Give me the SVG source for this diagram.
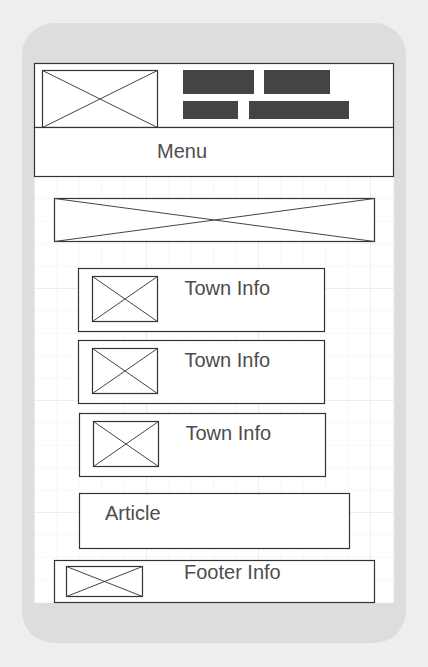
<svg xmlns="http://www.w3.org/2000/svg" width="428" height="667" viewBox="0 0 428 667">
  <defs>
    <pattern id="minor" x="34" y="64" width="22.4" height="22.4" patternUnits="userSpaceOnUse">
      <path d="M 0 0 H 22.4 M 0 0 V 22.4" fill="none" stroke="#f0f0f0" stroke-width="1"/>
    </pattern>
    <pattern id="major" x="34" y="64" width="112" height="112" patternUnits="userSpaceOnUse">
      <path d="M 0 0 H 112 M 0 0 V 112" fill="none" stroke="#e3e3e3" stroke-width="1"/>
    </pattern>
    <style>
      .box { fill: #ffffff; stroke: #333333; stroke-width: 1.2; }
      .ph { fill: #ffffff; stroke: #333333; stroke-width: 1.2; }
      .x { stroke: #444444; stroke-width: 1; fill: none; }
      .bar { fill: #444444; }
      .lbl { font-family: "Liberation Sans", Arial, sans-serif; font-size: 20px; fill: #4d4d4d; }
    </style>
  </defs>

  <rect x="0" y="0" width="428" height="667" fill="#eeeeee"/>
  <rect id="phone" x="22" y="23" width="384" height="620" rx="32" ry="32" fill="#dddddd"/>
  <g id="screen">
    <rect x="34" y="63" width="360" height="540" fill="#ffffff"/>
    <rect x="34" y="63" width="360" height="540" fill="url(#minor)"/>
    <rect x="34" y="63" width="360" height="540" fill="url(#major)"/>
  </g>

  <g id="header">
    <rect class="box" x="34.5" y="63.5" width="359" height="64"/>
    <g id="header-logo">
      <rect class="ph" x="42.5" y="70.5" width="115" height="57"/>
      <path class="x" d="M 42.5 70.5 L 157.5 127.5 M 157.5 70.5 L 42.5 127.5"/>
    </g>
    <g id="header-nav">
      <rect class="bar" x="183" y="70" width="71" height="24"/>
      <rect class="bar" x="264" y="70" width="66" height="24"/>
      <rect class="bar" x="183" y="101" width="55" height="18"/>
      <rect class="bar" x="249" y="101" width="100" height="18"/>
    </g>
  </g>

  <g id="menu">
    <rect class="box" x="34.5" y="127.5" width="359" height="49"/>
    <text class="lbl" x="157" y="157.5">Menu</text>
  </g>

  <g id="banner">
    <rect class="ph" x="54.5" y="198.5" width="320" height="43"/>
    <path class="x" d="M 54.5 198.5 L 374.5 241.5 M 374.5 198.5 L 54.5 241.5"/>
  </g>

  <g id="town-info-1">
    <rect class="box" x="78.5" y="268.5" width="246" height="63"/>
    <rect class="ph" x="92.5" y="276.5" width="65" height="45"/>
    <path class="x" d="M 92.5 276.5 L 157.5 321.5 M 157.5 276.5 L 92.5 321.5"/>
    <text class="lbl" x="184.5" y="295">Town Info</text>
  </g>

  <g id="town-info-2">
    <rect class="box" x="78.5" y="340.5" width="246" height="63"/>
    <rect class="ph" x="92.5" y="348.5" width="65" height="45"/>
    <path class="x" d="M 92.5 348.5 L 157.5 393.5 M 157.5 348.5 L 92.5 393.5"/>
    <text class="lbl" x="184.5" y="367">Town Info</text>
  </g>

  <g id="town-info-3">
    <rect class="box" x="79.5" y="413.5" width="246" height="63"/>
    <rect class="ph" x="93.5" y="421.5" width="65" height="45"/>
    <path class="x" d="M 93.5 421.5 L 158.5 466.5 M 158.5 421.5 L 93.5 466.5"/>
    <text class="lbl" x="185.5" y="440">Town Info</text>
  </g>

  <g id="article">
    <rect class="box" x="79.5" y="493.5" width="270" height="55"/>
    <text class="lbl" x="105" y="520">Article</text>
  </g>

  <g id="footer">
    <rect class="box" x="54.5" y="560.5" width="320" height="42"/>
    <rect class="ph" x="66.5" y="566.5" width="76" height="30"/>
    <path class="x" d="M 66.5 566.5 L 142.5 596.5 M 142.5 566.5 L 66.5 596.5"/>
    <text class="lbl" x="184" y="579">Footer Info</text>
  </g>

  <g id="connectors"></g>
</svg>
